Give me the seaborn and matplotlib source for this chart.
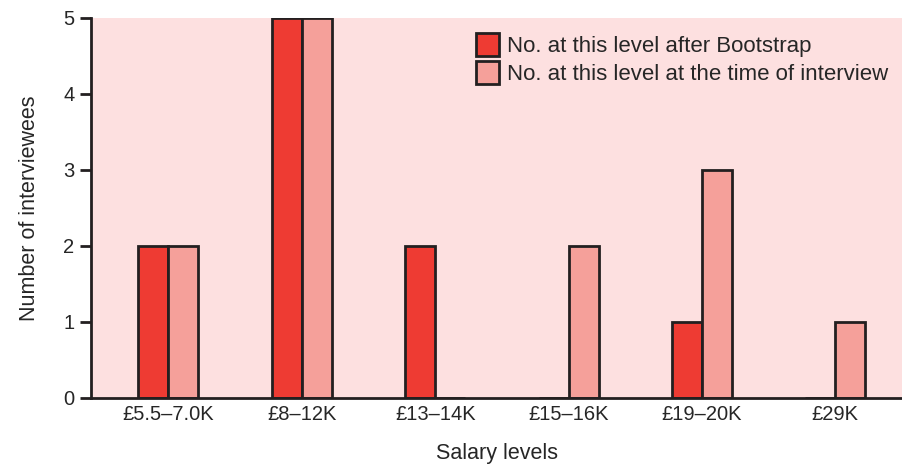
import matplotlib
matplotlib.use("Agg")
import matplotlib.pyplot as plt
import pandas as pd
import seaborn as sns

levels = ["£5.5–7.0K", "£8–12K", "£13–14K", "£15–16K", "£19–20K", "£29K"]
after_bootstrap = [2, 5, 2, 0, 1, 0]
at_interview = [2, 5, 0, 2, 3, 1]
series_names = ["No. at this level after Bootstrap",
                "No. at this level at the time of interview"]

df = pd.DataFrame({
    "level": levels * 2,
    "count": after_bootstrap + at_interview,
    "series": [series_names[0]] * len(levels) + [series_names[1]] * len(levels),
})

sns.set_style("ticks")
plt.rcParams["font.family"] = ["Liberation Sans", "DejaVu Sans"]

fig = plt.figure(figsize=(9.02, 4.67), dpi=100)
ax = fig.add_axes([0.101, 0.148, 0.899, 0.814])
ax.set_facecolor("#fde0e0")

sns.barplot(data=df, x="level", y="count", hue="series", ax=ax,
            palette=["#ee3b33", "#f5a09a"], width=0.45, gap=0,
            edgecolor="#231f20", linewidth=2, saturation=1)

ax.set_xlim(-0.58, 5.5)
ax.set_ylim(0, 5)
ax.set_yticks(range(6))
sns.despine(ax=ax, top=True, right=True)
for s in ["left", "bottom"]:
    ax.spines[s].set_linewidth(2)
    ax.spines[s].set_color("#231f20")
ax.tick_params(axis="y", length=8, width=2, color="#231f20", labelsize=14.5, pad=4)
ax.tick_params(axis="x", length=0, labelsize=14.5, pad=5)
ax.set_xlabel("Salary levels", fontsize=15.5, labelpad=14)
ax.set_ylabel("Number of interviewees", fontsize=15.5, labelpad=17)

leg = ax.legend(loc="upper right", frameon=False, fontsize=16,
                handlelength=1.0, handleheight=1.2, handletextpad=0.4,
                labelspacing=0.2, borderaxespad=0.2,
                bbox_to_anchor=(1.0, 0.995))
for h in leg.legend_handles:
    h.set_edgecolor("#231f20")
    h.set_linewidth(2)

fig.savefig("out.png", dpi=100)
